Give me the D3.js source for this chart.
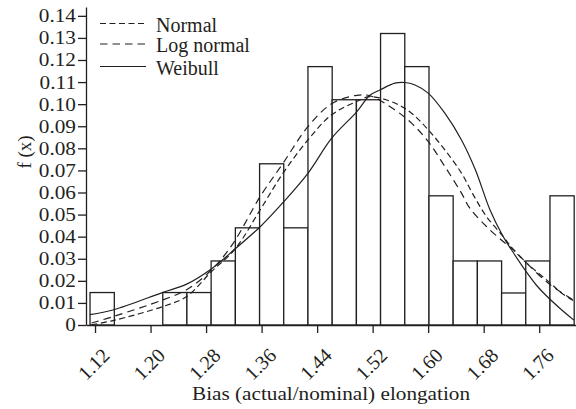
<!DOCTYPE html>
<html>
<head>
<meta charset="utf-8">
<script src="https://cdn.jsdelivr.net/npm/d3@7"></script>
<style>
  body { margin: 0; background: #fff; }
  svg { display: block; font-family: "Liberation Serif", "Times New Roman", serif; }
  .bar { fill: #fff; stroke: #231f20; stroke-width: 1.3; }
  .curve { fill: none; stroke: #231f20; stroke-width: 1.2; }
  .axis path, .axis line { stroke: #231f20; stroke-width: 1.3; }
  .axis text { fill: #231f20; }
</style>
</head>
<body>
<div id="chart"></div>
<script>
// histogram bins (edges) and relative frequency
const binEdges = [1.1128, 1.1478, 1.1827, 1.2176, 1.2524, 1.2873, 1.3222, 1.3571, 1.3919, 1.4268,
                  1.4617, 1.4966, 1.5314, 1.5663, 1.6012, 1.6360, 1.6709, 1.7058, 1.7406, 1.7755, 1.8104];
const binFreq = [0.0147, 0, 0, 0.0147, 0.0147, 0.029, 0.044, 0.073, 0.044, 0.117,
                 0.102, 0.102, 0.132, 0.117, 0.0585, 0.029, 0.029, 0.0145, 0.029, 0.0585];

// fitted curves
const normalX = [1.115, 1.147, 1.218, 1.252, 1.288, 1.322, 1.358, 1.391, 1.427, 1.461, 1.497, 1.516,
                 1.552, 1.576, 1.600, 1.624, 1.648, 1.664, 1.684, 1.708, 1.723, 1.742, 1.776, 1.790, 1.810];
const normalY = [0.0001, 0.0021, 0.0084, 0.0129, 0.0243, 0.0345, 0.0522, 0.0688, 0.0839, 0.0952, 0.1012, 0.1034,
                 0.1005, 0.0959, 0.0884, 0.0793, 0.0688, 0.0595, 0.0491, 0.0401, 0.0341, 0.0280, 0.0190, 0.0150, 0.0108];

const lognormX = [1.115, 1.147, 1.218, 1.252, 1.288, 1.318, 1.358, 1.391, 1.427, 1.461, 1.497, 1.516,
                  1.552, 1.576, 1.600, 1.624, 1.648, 1.660, 1.684, 1.708, 1.723, 1.742, 1.776, 1.810];
const lognormY = [0.0009, 0.0039, 0.0114, 0.0160, 0.0250, 0.0365, 0.0582, 0.0733, 0.0899, 0.1002, 0.1040, 0.1038,
                  0.0974, 0.0914, 0.0831, 0.0718, 0.0597, 0.0529, 0.0446, 0.0378, 0.0341, 0.0280, 0.0182, 0.0112];

const weibullX = [1.113, 1.147, 1.218, 1.252, 1.288, 1.322, 1.358, 1.391, 1.427, 1.461, 1.497, 1.516, 1.531,
                  1.552, 1.566, 1.581, 1.600, 1.624, 1.648, 1.668, 1.689, 1.708, 1.723, 1.742, 1.756, 1.771, 1.790, 1.810];
const weibullY = [0.0047, 0.0069, 0.0148, 0.0185, 0.0255, 0.0345, 0.0445, 0.0555, 0.0688, 0.0846, 0.0965, 0.1040, 0.1065,
                  0.1095, 0.1098, 0.1087, 0.1050, 0.0959, 0.0838, 0.0703, 0.0522, 0.0401, 0.0326, 0.0238, 0.0180, 0.0130, 0.0075, 0.0022];

const xTicks = [1.12, 1.20, 1.28, 1.36, 1.44, 1.52, 1.60, 1.68, 1.76];
const yTicks = [0, 0.01, 0.02, 0.03, 0.04, 0.05, 0.06, 0.07, 0.08, 0.09, 0.10, 0.11, 0.12, 0.13, 0.14];

const seriesNames = ["Normal", "Log normal", "Weibull"];
const dashes = ["6,3.5", "7.5,5", null];

const width = 576, height = 409;
const margin = {top: 7, right: 0, bottom: 84, left: 86};

const svg = d3.select("#chart").append("svg")
    .attr("width", width)
    .attr("height", height);

const x = d3.scaleLinear().domain([1.107, 1.813]).range([margin.left, width - margin.right]);
const y = d3.scaleLinear().domain([0, 0.144]).range([height - margin.bottom, margin.top]);

// bars
const bins = binFreq.map((f, i) => ({x0: binEdges[i], x1: binEdges[i + 1], f: f}))
    .filter(d => d.f > 0);
svg.append("g").selectAll("rect")
    .data(bins)
    .join("rect")
    .attr("class", "bar")
    .attr("x", d => x(d.x0))
    .attr("y", d => y(d.f))
    .attr("width", d => x(d.x1) - x(d.x0))
    .attr("height", d => y(0) - y(d.f));

// curves
const line = d3.line()
    .x(d => x(d[0]))
    .y(d => y(d[1]))
    .curve(d3.curveCatmullRom.alpha(0.5));

const curves = [
    d3.zip(normalX, normalY),
    d3.zip(lognormX, lognormY),
    d3.zip(weibullX, weibullY)
];
curves.forEach(function(pts, i) {
    svg.append("path")
        .attr("class", "curve")
        .attr("d", line(pts))
        .attr("stroke-dasharray", dashes[i]);
});

// axes
const xAxis = svg.append("g")
    .attr("class", "axis")
    .attr("transform", "translate(0," + y(0) + ")")
    .call(d3.axisBottom(x).tickValues(xTicks).tickSize(8).tickSizeOuter(0).tickFormat(d3.format(".2f")));
xAxis.selectAll("text")
    .attr("font-size", 20)
    .attr("text-anchor", "middle")
    .attr("y", 0).attr("dy", 0)
    .attr("transform", "translate(3,44) rotate(-45)");

const yAxis = svg.append("g")
    .attr("class", "axis")
    .attr("transform", "translate(" + margin.left + ",0)")
    .call(d3.axisLeft(y).tickValues(yTicks).tickSize(8).tickSizeOuter(0)
        .tickFormat(d => d === 0 ? "0" : d3.format(".2f")(d)));
yAxis.selectAll("text")
    .attr("font-size", 18.5)
    .attr("x", -10 / 1.15)
    .attr("transform", "scale(1.15,1)");
svg.selectAll(".axis text").attr("font-family", "Liberation Serif, serif");

// axis titles
svg.append("text")
    .attr("x", 331)
    .attr("y", 400)
    .attr("text-anchor", "middle")
    .attr("font-size", 19)
    .attr("textLength", 278)
    .attr("lengthAdjust", "spacingAndGlyphs")
    .attr("fill", "#231f20")
    .text("Bias (actual/nominal) elongation");

svg.append("text")
    .attr("transform", "translate(31,152) rotate(-90)")
    .attr("text-anchor", "middle")
    .attr("font-size", 19)
    .attr("fill", "#231f20")
    .text("f (x)");

// legend
const legend = svg.append("g");
const legendY = [23.5, 44, 66.5];
seriesNames.forEach(function(name, i) {
    legend.append("line")
        .attr("class", "curve")
        .attr("x1", 100).attr("x2", 146)
        .attr("y1", legendY[i]).attr("y2", legendY[i])
        .attr("stroke-dasharray", dashes[i]);
    legend.append("text")
        .attr("x", 156)
        .attr("y", legendY[i] + 8)
        .attr("font-size", 20)
        .attr("fill", "#231f20")
        .text(name);
});
</script>
</body>
</html>
